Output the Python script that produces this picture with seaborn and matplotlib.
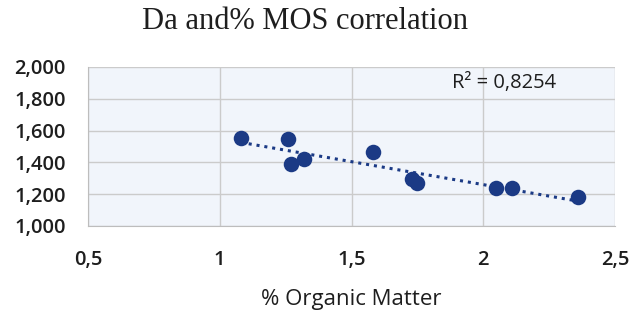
import numpy as np
import pandas as pd
import matplotlib
matplotlib.use("Agg")
import matplotlib.pyplot as plt
from matplotlib.ticker import FuncFormatter, MultipleLocator
import seaborn as sns

# values
organic_matter = [1.08, 1.26, 1.27, 1.32, 1.58, 1.73, 1.75, 2.05, 2.11, 2.36]
bulk_density = [1.555, 1.550, 1.392, 1.423, 1.464, 1.294, 1.269, 1.242, 1.236, 1.183]
r2_label = "R² = 0,8254"

df = pd.DataFrame({"om": organic_matter, "da": bulk_density})

sns.set_style("whitegrid")
plt.rcParams["font.family"] = ["Open Sans", "DejaVu Sans"]

fig = plt.figure(figsize=(6.35, 3.1), dpi=100)
ax = fig.add_axes([0.1386, 0.271, 0.830, 0.513])
ax.set_facecolor("#f1f5fb")

navy = "#1b3a85"
sns.regplot(data=df, x="om", y="da", ax=ax, ci=None, truncate=True,
            scatter_kws={"s": 125, "color": navy, "alpha": 1, "zorder": 3, "linewidths": 0},
            line_kws={"color": navy, "linestyle": (0, (1, 1.6)), "linewidth": 2.2, "zorder": 2})

ax.set_xlim(0.5, 2.5)
ax.set_ylim(1.0, 2.0)
ax.xaxis.set_major_locator(MultipleLocator(0.5))
ax.yaxis.set_major_locator(MultipleLocator(0.2))
ax.xaxis.set_major_formatter(FuncFormatter(lambda v, p: f"{v:g}".replace(".", ",")))
ax.yaxis.set_major_formatter(FuncFormatter(lambda v, p: f"{v:.3f}".replace(".", ",")))

ax.grid(True, color="#cbcbcb", linewidth=1)
for s in ax.spines.values():
    s.set_visible(False)
ax.spines["left"].set_visible(True)
ax.spines["bottom"].set_visible(True)
ax.spines["left"].set_color("#bdbdbd")
ax.spines["bottom"].set_color("#bdbdbd")
ax.tick_params(axis="y", length=7, color="#bdbdbd", labelsize=14.5, pad=9)
ax.tick_params(axis="x", length=5, color="#bdbdbd", labelsize=14.5, pad=12)
for lab in ax.get_xticklabels() + ax.get_yticklabels():
    lab.set_fontweight("semibold")
    lab.set_color("#1e1e1e")

ax.set_xlabel("% Organic Matter", fontsize=16, color="#1e1e1e", labelpad=14)
ax.set_ylabel("")
ax.text(1.88, 1.9, r2_label, fontsize=14.5, color="#1e1e1e", va="center")

fig.text(0.48, 0.93, "Da and% MOS correlation", ha="center", va="center",
         fontsize=22, family=["Liberation Serif", "DejaVu Serif"], color="#1e1e1e")

fig.savefig("out.png", dpi=100, facecolor="white")
